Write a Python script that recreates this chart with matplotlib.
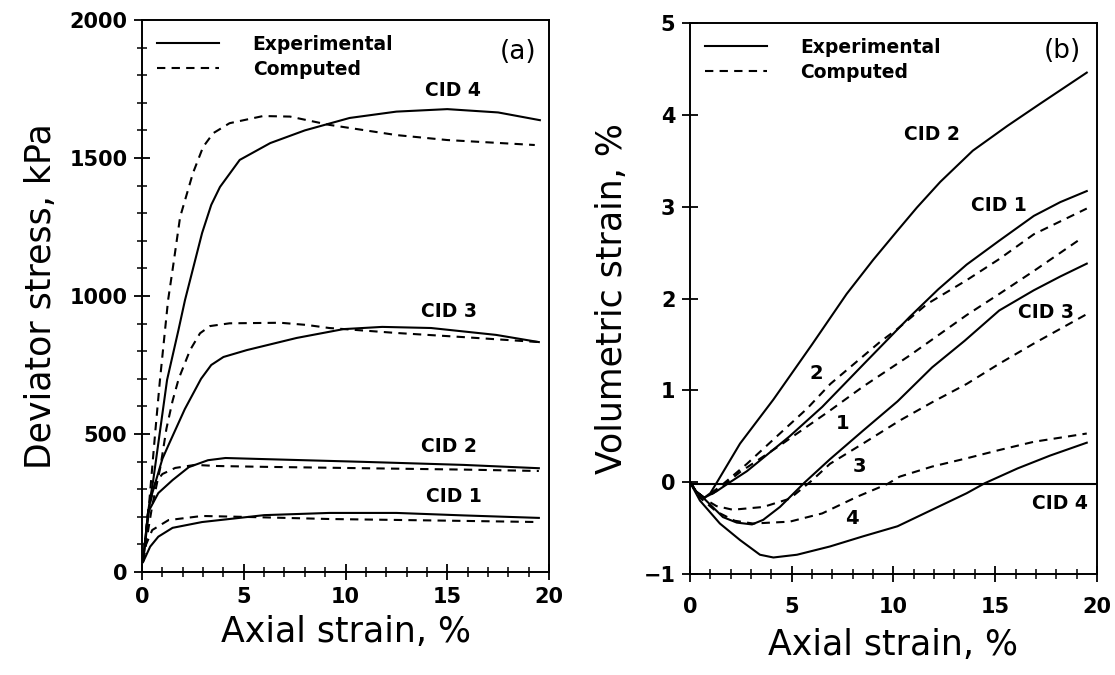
import matplotlib
matplotlib.use('Agg')
import matplotlib.pyplot as plt
from matplotlib.lines import Line2D
from matplotlib.ticker import MultipleLocator

# ---- (a) deviator stress (kPa) vs axial strain (%)
a_cid1_exp_x = [0.05, 0.4, 0.8, 1.5, 2.95, 5.15, 6.0, 9.2, 12.5, 15.8, 19.5]
a_cid1_exp_y = [36, 92, 128, 160, 181, 199, 206, 214, 214, 205, 196]
a_cid1_comp_x = [0.05, 0.2, 0.5, 1.3, 2.95, 5.4, 9.2, 15.0, 19.5]
a_cid1_comp_y = [40, 100, 152, 188, 203, 199, 192, 186, 181]

a_cid2_exp_x = [0.05, 0.3, 0.8, 1.5, 2.3, 3.24, 4.1, 6.0, 10.9, 15.8, 19.5]
a_cid2_exp_y = [40, 217, 286, 333, 380, 405, 413, 409, 399, 388, 376]
a_cid2_comp_x = [0.05, 0.3, 0.64, 1.0, 1.63, 2.6, 3.7, 6.0, 10.9, 15.8, 19.5]
a_cid2_comp_y = [40, 220, 322, 355, 377, 388, 384, 381, 376, 371, 366]

a_cid3_exp_x = [0.05, 0.4, 1.0, 1.3, 2.1, 2.9, 3.4, 4.0, 5.15, 7.6, 9.9, 11.8, 14.2, 17.4, 19.5]
a_cid3_exp_y = [40, 260, 410, 460, 590, 700, 750, 779, 804, 848, 880, 888, 884, 859, 833]
a_cid3_comp_x = [0.05, 0.5, 0.9, 1.2, 1.5, 1.8, 2.36, 2.85, 3.34, 4.3, 6.8, 8.1, 9.2, 12.5, 15.8, 19.5]
a_cid3_comp_y = [40, 240, 380, 520, 620, 700, 804, 865, 891, 901, 903, 895, 884, 866, 851, 833]

a_cid4_exp_x = [0.05, 0.3, 0.55, 0.9, 1.23, 1.79, 2.11, 2.95, 3.4, 3.83, 4.8, 6.3, 8.0, 10.2,
                12.5, 15.0, 17.5, 19.55]
a_cid4_exp_y = [40, 220, 333, 520, 696, 877, 985, 1228, 1330, 1395, 1493, 1554, 1600, 1645,
                1668, 1677, 1665, 1637]
a_cid4_comp_x = [0.05, 0.35, 0.64, 0.88, 1.13, 1.28, 1.52, 1.87, 2.5, 3.0, 3.5, 4.3, 5.95, 7.27,
                 9.2, 12.5, 15.0, 19.3]
a_cid4_comp_y = [40, 250, 500, 696, 877, 985, 1105, 1286, 1445, 1540, 1590, 1626, 1652, 1650,
                 1620, 1583, 1565, 1547]

# ---- (b) volumetric strain (%) vs axial strain (%)
b_cid1_exp_x = [0, 0.3, 0.7, 1.3, 1.97, 2.8, 4.9, 6.5, 8.6, 10.8, 12.2, 13.6, 15.2, 16.9, 18.2, 19.5]
b_cid1_exp_y = [0, -0.1, -0.17, -0.1, 0, 0.12, 0.5, 0.82, 1.3, 1.8, 2.1, 2.37, 2.63, 2.9, 3.05, 3.17]
b_cid1_comp_x = [0, 0.3, 0.7, 1.15, 2.46, 4.42, 6.88, 8.5, 10.8, 13.6, 15.2, 16.9, 19.2]
b_cid1_comp_y = [0, -0.1, -0.17, -0.12, 0.11, 0.4, 0.78, 1.04, 1.38, 1.82, 2.05, 2.3, 2.65]

b_cid2_exp_x = [0, 0.3, 0.7, 1.0, 1.33, 2.46, 4.1, 6.0, 7.7, 9.0, 10.2, 11.15, 12.3, 13.9, 15.6,
                17.2, 19.5]
b_cid2_exp_y = [0, -0.1, -0.17, -0.12, 0, 0.42, 0.9, 1.5, 2.05, 2.42, 2.74, 2.99, 3.27, 3.61, 3.88,
                4.12, 4.46]
b_cid2_comp_x = [0, 0.3, 0.7, 1.47, 2.8, 4.42, 5.75, 6.9, 9.3, 10.2, 11.65, 13.6, 15.2, 16.9, 19.5]
b_cid2_comp_y = [0, -0.1, -0.17, -0.05, 0.2, 0.53, 0.8, 1.07, 1.52, 1.67, 1.94, 2.2, 2.43, 2.7, 2.98]

b_cid3_exp_x = [0, 0.3, 0.7, 1.62, 2.3, 3.05, 3.6, 4.42, 5.65, 6.88, 8.5, 10.2, 11.9, 13.5, 15.2,
                16.9, 18.2, 19.5]
b_cid3_exp_y = [0, -0.1, -0.18, -0.38, -0.44, -0.46, -0.41, -0.27, 0, 0.25, 0.56, 0.88, 1.25, 1.54,
                1.87, 2.09, 2.24, 2.38]
b_cid3_comp_x = [0, 0.3, 0.7, 1.3, 2.1, 3.6, 4.9, 6.0, 6.88, 8.5, 10.3, 11.9, 13.6, 15.2, 16.9, 19.5]
b_cid3_comp_y = [0, -0.1, -0.18, -0.26, -0.3, -0.27, -0.18, 0.02, 0.2, 0.42, 0.67, 0.87, 1.07, 1.29,
                 1.51, 1.83]

b_cid4_exp_x = [0, 0.49, 1.47, 2.46, 3.44, 4.1, 5.26, 6.88, 8.5, 10.2, 11.9, 13.6, 14.5, 16.1,
                17.7, 19.5]
b_cid4_exp_y = [0, -0.2, -0.45, -0.63, -0.79, -0.82, -0.79, -0.70, -0.59, -0.48, -0.30, -0.12,
                -0.01, 0.15, 0.29, 0.43]
b_cid4_comp_x = [0, 0.5, 1.3, 2.2, 3.1, 4.9, 6.5, 8.2, 9.7, 10.3, 11.9, 13.6, 15.2, 16.9, 19.5]
b_cid4_comp_y = [0, -0.17, -0.32, -0.42, -0.45, -0.43, -0.34, -0.16, -0.02, 0.06, 0.17, 0.26,
                 0.35, 0.44, 0.53]

LW = 1.5
DASH = (0, (4, 3))

plt.rcParams['font.family'] = ['DejaVu Sans']

fig = plt.figure(figsize=(11.15, 6.75), dpi=100)
ax1 = fig.add_axes([0.1274, 0.1526, 0.365, 0.8178])
ax2 = fig.add_axes([0.6188, 0.1496, 0.365, 0.8163])


def style_axes(ax):
    for sp in ax.spines.values():
        sp.set_linewidth(1.4)
    ax.tick_params(which='major', direction='inout', length=11, width=1.3,
                   labelsize=15, pad=5)
    ax.tick_params(which='minor', direction='inout', length=7, width=1.1)
    for lab in ax.get_xticklabels() + ax.get_yticklabels():
        lab.set_fontweight('bold')


def add_legend(ax):
    handles = [Line2D([], [], color='black', lw=LW),
               Line2D([], [], color='black', lw=LW, linestyle=DASH)]
    ax.legend(handles, ['Experimental', 'Computed'], loc='upper left', frameon=False,
              handlelength=3.3, handletextpad=1.8, labelspacing=0.3,
              borderaxespad=0.4, prop={'size': 13.5, 'weight': 'bold'})


# panel (a)
for x, y in [(a_cid1_exp_x, a_cid1_exp_y), (a_cid2_exp_x, a_cid2_exp_y),
             (a_cid3_exp_x, a_cid3_exp_y), (a_cid4_exp_x, a_cid4_exp_y)]:
    ax1.plot(x, y, color='black', lw=LW)
for x, y in [(a_cid1_comp_x, a_cid1_comp_y), (a_cid2_comp_x, a_cid2_comp_y),
             (a_cid3_comp_x, a_cid3_comp_y), (a_cid4_comp_x, a_cid4_comp_y)]:
    ax1.plot(x, y, color='black', lw=LW, linestyle=DASH)

ax1.set_xlim(0, 20)
ax1.set_ylim(0, 2000)
ax1.xaxis.set_major_locator(MultipleLocator(5))
ax1.xaxis.set_minor_locator(MultipleLocator(1))
ax1.yaxis.set_major_locator(MultipleLocator(500))
ax1.yaxis.set_minor_locator(MultipleLocator(100))
style_axes(ax1)
ax1.set_xlabel('Axial strain, %', fontsize=25, labelpad=6)
ax1.set_ylabel('Deviator stress, kPa', fontsize=25, labelpad=8)
add_legend(ax1)
ax1.text(18.5, 1884, '(a)', fontsize=19, ha='center', va='center')
for lx, ly, s in [(15.3, 1746, 'CID 4'), (15.1, 942, 'CID 3'),
                  (15.1, 453, 'CID 2'), (15.3, 272, 'CID 1')]:
    ax1.text(lx, ly, s, fontsize=13.5, fontweight='bold', ha='center', va='center')

# panel (b)
for x, y in [(b_cid1_exp_x, b_cid1_exp_y), (b_cid2_exp_x, b_cid2_exp_y),
             (b_cid3_exp_x, b_cid3_exp_y), (b_cid4_exp_x, b_cid4_exp_y)]:
    ax2.plot(x, y, color='black', lw=LW)
for x, y in [(b_cid1_comp_x, b_cid1_comp_y), (b_cid2_comp_x, b_cid2_comp_y),
             (b_cid3_comp_x, b_cid3_comp_y), (b_cid4_comp_x, b_cid4_comp_y)]:
    ax2.plot(x, y, color='black', lw=LW, linestyle=DASH)
ax2.axhline(-0.02, color='black', lw=LW)

ax2.set_xlim(0, 20)
ax2.set_ylim(-1, 5)
ax2.xaxis.set_major_locator(MultipleLocator(5))
ax2.xaxis.set_minor_locator(MultipleLocator(1))
ax2.yaxis.set_major_locator(MultipleLocator(1))
style_axes(ax2)
ax2.tick_params(axis='x', which='major', pad=11)
ax2.set_xlabel('Axial strain, %', fontsize=25, labelpad=8)
ax2.set_ylabel('Volumetric strain, %', fontsize=25, labelpad=10)
add_legend(ax2)
ax2.text(18.3, 4.7, '(b)', fontsize=19, ha='center', va='center')
for lx, ly, s in [(11.9, 3.79, 'CID 2'), (15.2, 3.01, 'CID 1'),
                  (17.5, 1.85, 'CID 3'), (18.2, -0.23, 'CID 4')]:
    ax2.text(lx, ly, s, fontsize=13.5, fontweight='bold', ha='center', va='center')
for lx, ly, s in [(6.2, 1.18, '2'), (7.5, 0.64, '1'), (8.35, 0.17, '3'), (7.96, -0.39, '4')]:
    ax2.text(lx, ly, s, fontsize=14, fontweight='bold', ha='center', va='center')

fig.savefig('out.png', dpi=100)
